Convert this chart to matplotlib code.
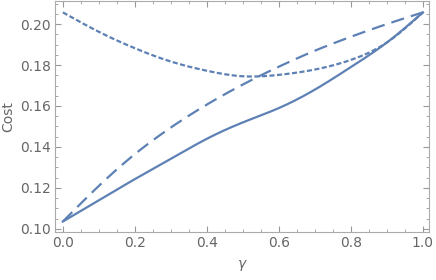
import numpy as np
import matplotlib.pyplot as plt
from matplotlib.ticker import MultipleLocator

gamma = [0.0, 0.1, 0.2, 0.3, 0.4, 0.5, 0.6, 0.7, 0.8, 0.9, 1.0]
cost_solid = [0.1036, 0.1140, 0.1243, 0.1342, 0.1440, 0.1520, 0.1590, 0.1680, 0.1790, 0.1910, 0.2057]
cost_dashed = [0.1036, 0.1210, 0.1365, 0.1495, 0.1607, 0.1705, 0.1792, 0.1870, 0.1938, 0.2000, 0.2057]
cost_dotted = [0.2057, 0.1962, 0.1882, 0.1817, 0.1772, 0.1745, 0.1752, 0.1778, 0.1825, 0.1910, 0.2057]

blue = '#5E81B5'
txt = '#666666'


def spline(x, y, xs):
    # natural cubic spline
    x = np.asarray(x); y = np.asarray(y)
    n = len(x)
    h = np.diff(x)
    A = np.zeros((n, n)); r = np.zeros(n)
    A[0, 0] = A[-1, -1] = 1
    for i in range(1, n - 1):
        A[i, i - 1] = h[i - 1]
        A[i, i] = 2 * (h[i - 1] + h[i])
        A[i, i + 1] = h[i]
        r[i] = 3 * ((y[i + 1] - y[i]) / h[i] - (y[i] - y[i - 1]) / h[i - 1])
    c = np.linalg.solve(A, r)
    b = (y[1:] - y[:-1]) / h - h * (2 * c[:-1] + c[1:]) / 3
    d = (c[1:] - c[:-1]) / (3 * h)
    k = np.clip(np.searchsorted(x, xs) - 1, 0, n - 2)
    t = xs - x[k]
    return y[k] + b[k] * t + c[k] * t ** 2 + d[k] * t ** 3


fig = plt.figure(figsize=(4.36, 2.8), dpi=100)
ax = fig.add_axes([0.126, 0.173, 0.858, 0.823])

xs = np.linspace(0, 1, 300)
ax.plot(xs, spline(gamma, cost_solid, xs), color=blue, lw=1.6)
ax.plot(xs, spline(gamma, cost_dashed, xs), color=blue, lw=1.6, dashes=(6, 3.2))
ax.plot(xs, spline(gamma, cost_dotted, xs), color=blue, lw=1.6, dashes=(2.3, 1.1))

ax.set_xlim(-0.022, 1.017)
ax.set_ylim(0.0987, 0.2112)
ax.xaxis.set_major_locator(MultipleLocator(0.2))
ax.xaxis.set_minor_locator(MultipleLocator(0.05))
ax.yaxis.set_major_locator(MultipleLocator(0.02))
ax.yaxis.set_minor_locator(MultipleLocator(0.005))
ax.xaxis.set_major_formatter(plt.FuncFormatter(lambda v, p: f'{v:.1f}'))
ax.yaxis.set_major_formatter(plt.FuncFormatter(lambda v, p: f'{v:.2f}'))

ax.tick_params(which='both', direction='in', top=True, right=True, color='#999999',
               labelcolor=txt, labelsize=10, pad=3)
ax.tick_params(which='major', length=4)
ax.tick_params(which='minor', length=2)
for s in ax.spines.values():
    s.set_color('#aaaaaa')

ax.set_xlabel(r'$\gamma$', color=txt, fontsize=10, labelpad=6)
ax.set_ylabel('Cost', color=txt, fontsize=10, labelpad=3)

fig.savefig('out.png', dpi=100)
